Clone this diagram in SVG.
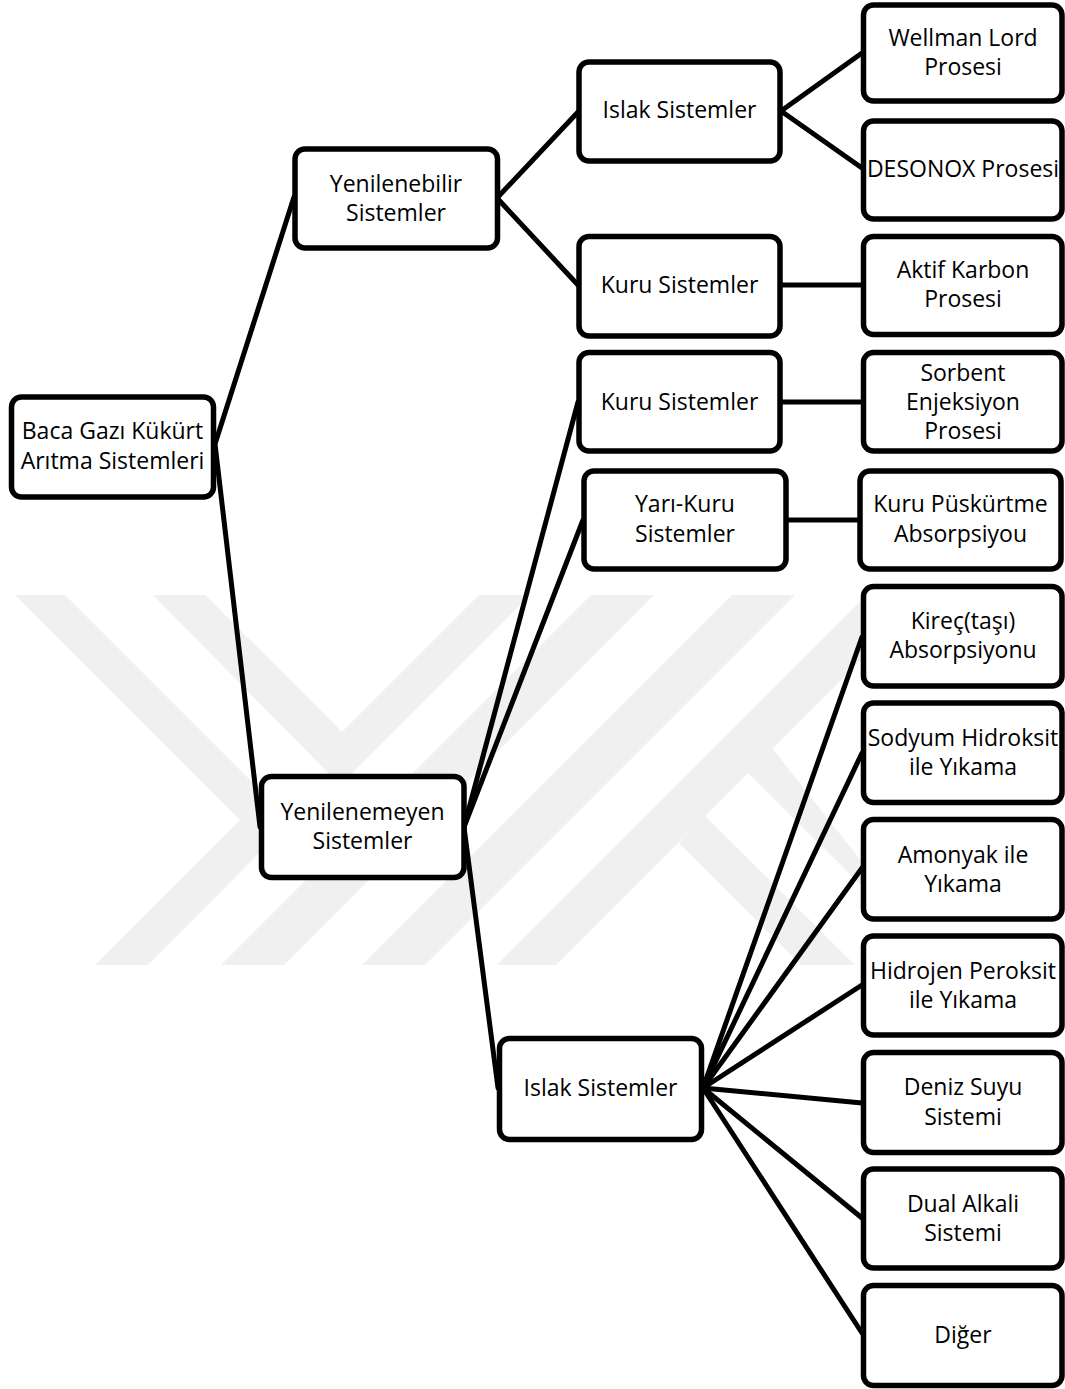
<svg xmlns="http://www.w3.org/2000/svg" width="1065" height="1389" viewBox="0 0 1065 1389">
<style>
.wm{fill:#f0f0f0;stroke:none}
.box{fill:#ffffff;stroke:#000000;stroke-width:5.5}
.t{font-family:"Open Sans","Liberation Sans",sans-serif;font-size:23px;fill:#000000;text-anchor:middle}
.c line{stroke:#000000;stroke-width:5;stroke-linecap:round}
</style>
<rect x="0" y="0" width="1065" height="1389" fill="#ffffff"/>
<g id="watermark">
<polygon class="wm" points="15,595 65,595 291,821 148,965 95,965 240,820"/>
<polygon class="wm" points="153,595 205,595 342,732 479,595 530,595 340,785"/>
<polygon class="wm" points="591,595 654,595 284,965 221,965"/>
<polygon class="wm" points="732,595 795,595 425,965 362,965"/>
<polygon class="wm" points="867,595 926,595 556,965 497,965"/>
<polygon class="wm" points="772,748 862,862 862,886 748,773"/>
<polygon class="wm" points="705,816 855,965 801,965 679,843"/>
</g>
<g id="connectors" class="c">
<line x1="215" y1="444" x2="294" y2="197"/>
<line x1="215" y1="444" x2="260" y2="827"/>
<line x1="497" y1="198" x2="578" y2="112"/>
<line x1="497" y1="198" x2="578" y2="285"/>
<line x1="781" y1="111" x2="862" y2="53"/>
<line x1="781" y1="111" x2="862" y2="168"/>
<line x1="781" y1="285" x2="862" y2="285"/>
<line x1="464" y1="827" x2="578" y2="402"/>
<line x1="464" y1="827" x2="583" y2="520"/>
<line x1="464" y1="827" x2="498" y2="1088"/>
<line x1="781" y1="402" x2="862" y2="402"/>
<line x1="786" y1="520" x2="859" y2="520"/>
<line x1="703" y1="1088" x2="862" y2="637"/>
<line x1="703" y1="1088" x2="862" y2="753"/>
<line x1="703" y1="1088" x2="862" y2="868"/>
<line x1="703" y1="1088" x2="862" y2="985"/>
<line x1="703" y1="1088" x2="862" y2="1103"/>
<line x1="703" y1="1088" x2="862" y2="1218"/>
<line x1="703" y1="1088" x2="862" y2="1333"/>
</g>
<g id="n-root"><rect class="box" x="11.5" y="397" width="202" height="100" rx="10"/><text class="t" x="112.5" y="439">Baca Gazı Kükürt</text><text class="t" x="112.5" y="469">Arıtma Sistemleri</text></g>
<g id="n-yenilenebilir"><rect class="box" x="295" y="149" width="202.5" height="99" rx="10"/><text class="t" x="396" y="192">Yenilenebilir</text><text class="t" x="396" y="221">Sistemler</text></g>
<g id="n-islak1"><rect class="box" x="579" y="62" width="201" height="99" rx="10"/><text class="t" x="679.5" y="118">Islak Sistemler</text></g>
<g id="n-wellman"><rect class="box" x="863.5" y="5" width="198.5" height="96" rx="10"/><text class="t" x="963" y="46">Wellman Lord</text><text class="t" x="963" y="75">Prosesi</text></g>
<g id="n-desonox"><rect class="box" x="863.5" y="121" width="198.5" height="98" rx="10"/><text class="t" x="963" y="177">DESONOX Prosesi</text></g>
<g id="n-kuru1"><rect class="box" x="579" y="236.5" width="201" height="99.5" rx="10"/><text class="t" x="679.5" y="293">Kuru Sistemler</text></g>
<g id="n-aktif"><rect class="box" x="863.5" y="236.5" width="198.5" height="98" rx="10"/><text class="t" x="963" y="278">Aktif Karbon</text><text class="t" x="963" y="307">Prosesi</text></g>
<g id="n-yenilenemeyen"><rect class="box" x="261.5" y="776.5" width="202.5" height="101" rx="10"/><text class="t" x="362.5" y="820">Yenilenemeyen</text><text class="t" x="362.5" y="849">Sistemler</text></g>
<g id="n-kuru2"><rect class="box" x="579" y="352.5" width="201" height="98.5" rx="10"/><text class="t" x="679.5" y="410">Kuru Sistemler</text></g>
<g id="n-sorbent"><rect class="box" x="863.5" y="352.5" width="198.5" height="98.5" rx="10"/><text class="t" x="963" y="381">Sorbent</text><text class="t" x="963" y="410">Enjeksiyon</text><text class="t" x="963" y="439">Prosesi</text></g>
<g id="n-yarikuru"><rect class="box" x="584" y="471" width="202" height="98" rx="10"/><text class="t" x="685" y="512">Yarı-Kuru</text><text class="t" x="685" y="542">Sistemler</text></g>
<g id="n-puskurtme"><rect class="box" x="860" y="471" width="201" height="98" rx="10"/><text class="t" x="960.5" y="512">Kuru Püskürtme</text><text class="t" x="960.5" y="542">Absorpsiyou</text></g>
<g id="n-islak2"><rect class="box" x="499.5" y="1038.5" width="202" height="101" rx="10"/><text class="t" x="600.5" y="1096">Islak Sistemler</text></g>
<g id="n-kirec"><rect class="box" x="863.5" y="586.5" width="198.5" height="99.5" rx="10"/><text class="t" x="963" y="629">Kireç(taşı)</text><text class="t" x="963" y="658">Absorpsiyonu</text></g>
<g id="n-sodyum"><rect class="box" x="863.5" y="703" width="198.5" height="99.5" rx="10"/><text class="t" x="963" y="746">Sodyum Hidroksit</text><text class="t" x="963" y="775">ile Yıkama</text></g>
<g id="n-amonyak"><rect class="box" x="863.5" y="819.5" width="198.5" height="99.5" rx="10"/><text class="t" x="963" y="863">Amonyak ile</text><text class="t" x="963" y="892">Yıkama</text></g>
<g id="n-hidrojen"><rect class="box" x="863.5" y="936" width="198.5" height="99" rx="10"/><text class="t" x="963" y="979">Hidrojen Peroksit</text><text class="t" x="963" y="1008">ile Yıkama</text></g>
<g id="n-deniz"><rect class="box" x="863.5" y="1052.5" width="198.5" height="100" rx="10"/><text class="t" x="963" y="1095">Deniz Suyu</text><text class="t" x="963" y="1125">Sistemi</text></g>
<g id="n-dual"><rect class="box" x="863.5" y="1169" width="198.5" height="99" rx="10"/><text class="t" x="963" y="1212">Dual Alkali</text><text class="t" x="963" y="1241">Sistemi</text></g>
<g id="n-diger"><rect class="box" x="863.5" y="1285.5" width="198.5" height="100" rx="10"/><text class="t" x="963" y="1343">Diğer</text></g>
</svg>
